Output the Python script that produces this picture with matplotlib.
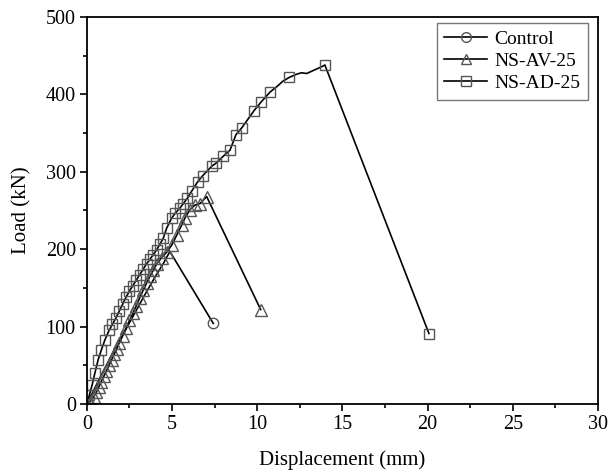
import matplotlib
matplotlib.use("Agg")
import matplotlib.pyplot as plt
from matplotlib.ticker import MultipleLocator
from matplotlib.lines import Line2D

plt.rcParams['font.family'] = ['Liberation Serif', 'DejaVu Serif']

# Control
ctrl_x = [0, 0.5, 1.0, 1.5, 2.0, 2.5, 3.0, 3.5, 4.0, 4.5, 4.87, 7.42]
ctrl_y = [0, 22, 44, 65, 85, 105, 125, 145, 164, 182, 197, 104]
ctrl_marks = [11]

# NS-AV-25
av_x = [0, 0.2, 0.4, 0.55, 0.7, 0.85, 1.0, 1.15, 1.3, 1.45, 1.6, 1.75, 1.9, 2.1,
        2.3, 2.5, 2.7, 2.9, 3.1, 3.3, 3.5, 3.7, 3.9, 4.1, 4.38, 4.68, 4.97, 5.27,
        5.56, 5.75, 6.05, 6.34, 6.64, 7.03, 10.2]
av_y = [0, 3, 9, 15, 22, 29, 36, 43, 50, 57, 64, 71, 79, 88,
        98, 108, 117, 127, 137, 147, 156, 165, 173, 181, 189, 196, 205, 218,
        231, 240, 251, 257, 259, 268, 122]

# NS-AD-25
ad_x = [0, 0.15, 0.3, 0.47, 0.66, 0.85, 1.06, 1.3, 1.5, 1.7, 1.9, 2.1, 2.3, 2.5,
        2.7, 2.9, 3.1, 3.3, 3.5, 3.7, 3.9, 4.09, 4.3, 4.48, 4.68, 4.97, 5.2, 5.46,
        5.66, 5.9, 6.15, 6.5, 6.8, 7.32, 7.57, 8.0, 8.4, 8.75, 9.1, 9.81, 10.22,
        10.75, 11.2, 11.5, 11.88, 12.3, 12.6, 12.9, 13.4, 13.8, 13.97, 20.08]
ad_y = [0, 12, 24, 40, 57, 70, 83, 95, 103, 111, 120, 129, 138, 146,
        153, 160, 167, 174, 181, 187, 193, 199, 207, 214, 227, 240, 247, 253,
        259, 266, 275, 287, 295, 307, 311, 320, 328, 348, 357, 379, 390,
        403, 411, 417, 422, 426, 428, 427, 432, 436, 438, 91]
ad_marks = [i for i in range(len(ad_x)) if i not in (42, 43, 45, 46, 47, 48, 49)]

labels = ['Control', 'NS-AV-25', 'NS-AD-25']

fig = plt.figure(figsize=(6.12, 4.73), dpi=100)
ax = fig.add_axes([0.142, 0.146, 0.835, 0.818])

mk = dict(markerfacecolor='none', markeredgecolor='#555555', markeredgewidth=1.0)
ax.plot(ctrl_x, ctrl_y, color='black', lw=1.2, marker='o', markersize=7.5,
        markevery=ctrl_marks, label=labels[0], **mk)
ax.plot(av_x, av_y, color='black', lw=1.2, marker='^', markersize=8.5,
        label=labels[1], **mk)
ax.plot(ad_x, ad_y, color='black', lw=1.2, marker='s', markersize=7.5,
        markevery=ad_marks, label=labels[2], **mk)

ax.set_xlim(0, 30)
ax.set_ylim(0, 500)
ax.xaxis.set_major_locator(MultipleLocator(5))
ax.xaxis.set_minor_locator(MultipleLocator(2.5))
ax.yaxis.set_major_locator(MultipleLocator(100))
ax.yaxis.set_minor_locator(MultipleLocator(50))
ax.tick_params(which='both', direction='out', top=False, right=False, labelsize=14.5, width=1.2)
ax.tick_params(which='major', length=5, pad=3)
ax.tick_params(which='minor', length=3)
for s in ax.spines.values():
    s.set_linewidth(1.3)

ax.set_xlabel('Displacement (mm)', fontsize=15, labelpad=12)
ax.set_ylabel('Load (kN)', fontsize=15, labelpad=10)

handles = [Line2D([], [], color='black', lw=1.2, marker=m, markersize=7, **mk)
           for m in ['o', '^', 's']]
leg = ax.legend(handles, labels, loc='upper right', fontsize=14, frameon=True,
                fancybox=False, edgecolor='#555555', handlelength=2.2,
                handletextpad=0.35, borderpad=0.4, labelspacing=0.22,
                borderaxespad=0, bbox_to_anchor=(0.98, 0.985))
leg.get_frame().set_linewidth(1.0)

fig.savefig('out.png', dpi=100)
